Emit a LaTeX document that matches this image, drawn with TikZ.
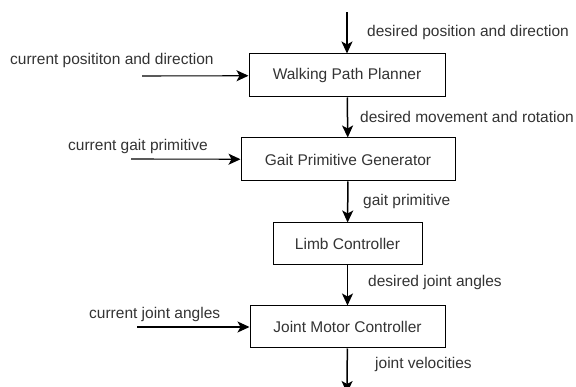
\documentclass[tikz,border=0pt]{standalone}
\usepackage{fontspec}
\setmainfont{Liberation Sans}
\usetikzlibrary{arrows.meta}

\begin{document}
\begin{tikzpicture}[x=1pt,y=-1pt,>={Stealth[length=12pt,width=11pt,inset=3pt]},
  blk/.style={draw,line width=1pt,inner sep=0pt,minimum height=43pt,
    font=\fontsize{15.5}{18}\selectfont,text=black!80},
  lbl/.style={anchor=west,inner sep=0pt,font=\fontsize{15.5}{18}\selectfont,text=black!80},
  flow/.style={->,line width=1.5pt},
  feed/.style={->,line width=1.1pt}]
\useasboundingbox (0,0) rectangle (576,387);
% blocks
\node[blk,minimum width=196pt](wpp) at (347,75.5){Walking Path Planner};
\node[blk,minimum width=214pt](gpg) at (348,159.5){Gait Primitive Generator};
\node[blk,minimum width=149pt,minimum height=42pt](limb) at (347.5,244){Limb Controller};
\node[blk,minimum width=195pt,minimum height=42pt](jmc) at (347.5,327){Joint Motor Controller};
% free ends
\coordinate (goal) at (347,12.5);
\coordinate (vel) at (347,393);
\coordinate (pose) at (142,76);
\coordinate (gait) at (131,159);
\coordinate (angle) at (137,327);
% signals
\draw[flow](goal)--(wpp);
\draw[flow](wpp)--(gpg);
\draw[flow](gpg)--(limb);
\draw[flow](limb)--(jmc);
\draw[flow](jmc)--(vel);
\draw[feed](pose)--(wpp);
\draw[feed](gait)--(gpg);
\draw[feed](angle)--(jmc);
% labels
\node[lbl](goaltxt) at (367,32){desired position and direction};
\node[lbl](movetxt) at (360,117){desired movement and rotation};
\node[lbl](primtxt) at (363,201){gait primitive};
\node[lbl](jointtxt) at (368,282){desired joint angles};
\node[lbl](veltxt) at (375,364){joint velocities};
\node[lbl](posetxt) at (10,60){current posititon and direction};
\node[lbl](gaittxt) at (68,146){current gait primitive};
\node[lbl](angletxt) at (89,314){current joint angles};
\end{tikzpicture}
\end{document}
